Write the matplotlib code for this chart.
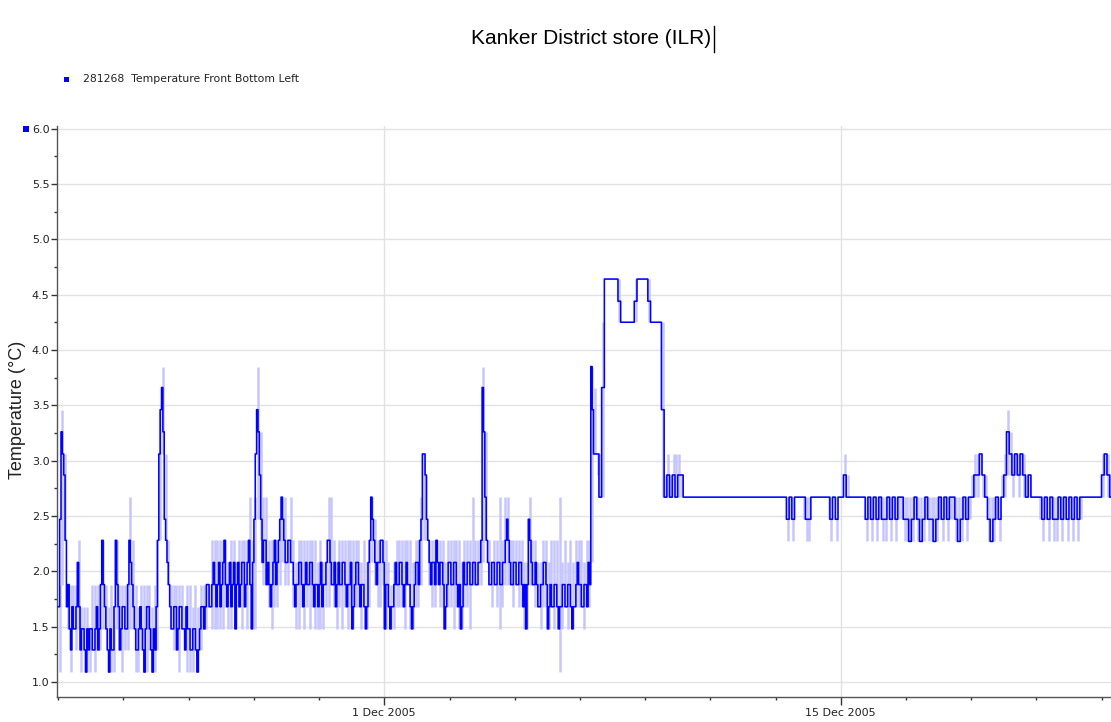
import matplotlib
matplotlib.use("Agg")
import matplotlib.pyplot as plt
import matplotlib.dates as mdates
from matplotlib.ticker import FixedLocator, MultipleLocator, FuncFormatter
from matplotlib.patches import Rectangle
from matplotlib.lines import Line2D
from datetime import datetime, timedelta

# ---------------- data (2-hour bins starting 21 Nov 2005 00:00) ----------------
title = "Kanker District store (ILR)"
series_name = "281268  Temperature Front Bottom Left"
y_label = "Temperature (°C)"
start_time = datetime(2005, 11, 21)
bin_hours = 2
x_major_dates = [datetime(2005, 12, 1), datetime(2005, 12, 15)]
x_major_labels = ["1 Dec 2005", "15 Dec 2005"]

# main (dark) trace: reading at the start of each 2-hour bin
temp_main = [
    1.68, 3.26, 2.87, 1.68, 1.48, 1.68, 1.48, 2.08, 1.29, 1.48, 1.09, 1.29,   # 21 Nov
    1.48, 1.29, 1.68, 1.48, 2.28, 1.68, 1.29, 1.48, 1.29, 2.28, 1.68, 1.48,   # 22 Nov
    1.68, 1.48, 2.28, 1.88, 1.48, 1.29, 1.68, 1.29, 1.48, 1.68, 1.29, 1.48,   # 23 Nov
    1.68, 3.06, 3.66, 2.47, 2.08, 1.68, 1.48, 1.68, 1.48, 1.68, 1.48, 1.68,   # 24 Nov
    1.48, 1.29, 1.48, 1.09, 1.48, 1.68, 1.68, 1.88, 1.68, 2.08, 1.68, 2.08,   # 25 Nov
    1.88, 2.28, 1.68, 2.08, 1.88, 1.48, 2.08, 1.88, 2.08, 1.88, 2.28, 1.48,   # 26 Nov
    2.47, 3.46, 2.87, 2.08, 2.28, 2.08, 1.68, 2.08, 1.88, 2.28, 2.67, 2.28,   # 27 Nov
    2.08, 2.28, 2.08, 1.68, 1.88, 2.08, 1.68, 2.08, 1.88, 2.08, 1.68, 1.88,   # 28 Nov
    1.88, 1.68, 1.88, 2.28, 2.08, 1.88, 1.68, 2.08, 1.88, 2.08, 1.68, 1.88,   # 29 Nov
    1.48, 1.88, 2.08, 1.68, 1.88, 1.48, 2.08, 2.67, 2.28, 1.88, 2.08, 2.28,   # 30 Nov
    1.48, 1.88, 1.48, 1.68, 2.08, 1.88, 2.08, 1.68, 2.08, 1.88, 1.48, 1.88,   # 1 Dec
    2.08, 2.28, 3.06, 2.87, 2.28, 1.88, 2.08, 2.28, 1.88, 2.08, 1.48, 1.88,   # 2 Dec
    2.08, 1.88, 2.08, 1.68, 1.48, 2.08, 1.88, 2.08, 1.88, 2.08, 1.88, 2.08,   # 3 Dec
    3.66, 2.67, 2.08, 1.88, 2.08, 1.88, 2.08, 1.88, 2.08, 2.47, 2.08, 1.88,   # 4 Dec
    2.08, 1.88, 2.08, 1.68, 1.48, 2.47, 2.08, 1.88, 1.88, 1.68, 1.88, 2.08,   # 5 Dec
    1.48, 1.88, 1.68, 1.88, 1.48, 1.68, 1.88, 1.68, 1.88, 1.48, 1.68, 2.08,   # 6 Dec
    1.88, 1.68, 1.88, 2.08, 3.85, 3.06, 3.06, 2.67, 3.66, 4.64, 4.64, 4.64,   # 7 Dec
    4.64, 4.64, 4.44, 4.25, 4.25, 4.25, 4.25, 4.25, 4.44, 4.64, 4.64, 4.64,   # 8 Dec
    4.64, 4.44, 4.25, 4.25, 4.25, 4.25, 3.46, 2.67, 2.87, 2.67, 2.87, 2.67,   # 9 Dec
    2.87, 2.87, 2.67, 2.67, 2.67, 2.67, 2.67, 2.67, 2.67, 2.67, 2.67, 2.67,   # 10 Dec
    2.67, 2.67, 2.67, 2.67, 2.67, 2.67, 2.67, 2.67, 2.67, 2.67, 2.67, 2.67,   # 11 Dec
    2.67, 2.67, 2.67, 2.67, 2.67, 2.67, 2.67, 2.67, 2.67, 2.67, 2.67, 2.67,   # 12 Dec
    2.67, 2.67, 2.67, 2.67, 2.47, 2.67, 2.47, 2.67, 2.67, 2.67, 2.67, 2.47,   # 13 Dec
    2.47, 2.67, 2.67, 2.67, 2.67, 2.67, 2.67, 2.67, 2.47, 2.67, 2.47, 2.67,   # 14 Dec
    2.67, 2.87, 2.67, 2.67, 2.67, 2.67, 2.67, 2.67, 2.67, 2.47, 2.67, 2.47,   # 15 Dec
    2.67, 2.47, 2.67, 2.47, 2.47, 2.67, 2.47, 2.67, 2.47, 2.67, 2.67, 2.47,   # 16 Dec
    2.47, 2.27, 2.47, 2.67, 2.47, 2.27, 2.47, 2.67, 2.47, 2.47, 2.27, 2.47,   # 17 Dec
    2.67, 2.47, 2.67, 2.47, 2.67, 2.67, 2.47, 2.27, 2.47, 2.67, 2.47, 2.67,   # 18 Dec
    2.67, 2.87, 2.87, 3.06, 2.87, 2.67, 2.47, 2.27, 2.47, 2.67, 2.47, 2.67,   # 19 Dec
    2.87, 3.26, 3.06, 2.87, 3.06, 2.87, 3.06, 2.87, 2.67, 2.87, 2.67, 2.67,   # 20 Dec
    2.67, 2.67, 2.47, 2.67, 2.47, 2.67, 2.47, 2.47, 2.67, 2.47, 2.67, 2.47,   # 21 Dec
    2.67, 2.47, 2.67, 2.47, 2.67, 2.67, 2.67, 2.67, 2.67, 2.67, 2.67, 2.67,   # 22 Dec
    2.87, 3.06, 2.87, 2.67,                                                   # 23 Dec
]

# main trace, reading one hour into each bin (noisy period 21 Nov - 7 Dec only;
# later bins keep their start reading)
temp_mid = [
    2.47, 3.06, 2.28, 1.88, 1.29, 1.48, 1.68, 1.68, 1.48, 1.29, 1.48, 1.48,   # 21 Nov
    1.29, 1.48, 1.29, 1.88, 1.88, 1.48, 1.09, 1.29, 1.68, 1.88, 1.29, 1.68,   # 22 Nov
    1.48, 1.88, 2.08, 1.68, 1.29, 1.48, 1.48, 1.09, 1.68, 1.48, 1.09, 1.29,   # 23 Nov
    2.28, 3.46, 3.26, 2.28, 1.88, 1.48, 1.68, 1.29, 1.68, 1.48, 1.29, 1.48,   # 24 Nov
    1.29, 1.48, 1.29, 1.29, 1.68, 1.48, 1.88, 1.68, 1.88, 1.88, 1.88, 1.68,   # 25 Nov
    2.08, 1.88, 1.88, 1.68, 2.08, 1.88, 1.68, 2.08, 1.68, 2.08, 1.88, 2.08,   # 26 Nov
    3.06, 3.26, 2.47, 2.28, 1.88, 1.88, 1.88, 2.28, 2.08, 2.47, 2.47, 2.08,   # 27 Nov
    2.28, 2.08, 1.88, 1.88, 2.08, 1.88, 1.88, 1.88, 2.08, 1.88, 1.88, 1.68,   # 28 Nov
    2.08, 1.88, 2.08, 2.28, 1.88, 2.08, 1.88, 1.88, 2.08, 1.88, 1.88, 2.08,   # 29 Nov
    1.68, 2.08, 1.88, 1.88, 1.68, 1.68, 2.28, 2.47, 2.08, 2.08, 2.28, 2.08,   # 30 Nov
    1.88, 1.68, 1.68, 1.88, 1.88, 2.08, 1.88, 1.88, 1.88, 1.68, 1.68, 2.08,   # 1 Dec
    1.88, 2.47, 3.06, 2.47, 2.08, 2.08, 1.88, 2.08, 2.08, 1.88, 1.68, 2.08,   # 2 Dec
    1.88, 2.08, 1.88, 1.88, 1.68, 1.88, 2.08, 1.88, 2.08, 1.88, 2.08, 2.28,   # 3 Dec
    3.26, 2.28, 1.88, 2.08, 1.88, 2.08, 1.88, 2.08, 2.28, 2.28, 1.88, 2.08,   # 4 Dec
    1.88, 2.08, 1.88, 1.88, 1.88, 2.28, 1.88, 2.08, 1.68, 1.88, 2.08, 1.88,   # 5 Dec
    1.68, 1.68, 1.88, 1.68, 1.68, 1.88, 1.68, 1.88, 1.68, 1.68, 1.88, 1.88,   # 6 Dec
    1.68, 1.88, 1.68, 1.88, 3.46,                                             # 7 Dec
]

# highest reading inside each bin (light trace)
temp_high = [
    1.88, 3.46, 3.06, 1.88, 1.88, 1.88, 1.88, 2.28, 1.68, 1.68, 1.68, 1.48,
    1.88, 1.88, 1.88, 1.88, 2.28, 1.88, 1.68, 1.88, 1.68, 2.28, 1.88, 1.88,
    1.88, 1.88, 2.67, 2.28, 1.88, 1.68, 1.88, 1.88, 1.88, 1.88, 1.68, 1.88,
    2.28, 3.46, 3.85, 3.06, 2.28, 1.88, 1.88, 1.88, 1.88, 1.88, 1.68, 1.88,
    1.88, 1.68, 1.88, 1.68, 1.88, 1.88, 1.88, 1.88, 2.28, 2.28, 2.28, 2.28,
    2.28, 2.28, 2.08, 2.28, 2.28, 2.08, 2.28, 2.28, 2.28, 2.28, 2.67, 2.28,
    2.67, 3.85, 3.26, 2.67, 2.67, 2.28, 2.28, 2.28, 2.28, 2.47, 2.67, 2.67,
    2.28, 2.67, 2.28, 2.08, 2.28, 2.28, 2.28, 2.28, 2.28, 2.28, 2.28, 2.08,
    2.28, 2.08, 2.08, 2.67, 2.67, 2.28, 2.08, 2.28, 2.28, 2.28, 2.28, 2.28,
    2.28, 2.28, 2.28, 2.08, 2.28, 2.08, 2.28, 2.67, 2.47, 2.28, 2.28, 2.28,
    2.28, 2.08, 1.88, 2.08, 2.28, 2.28, 2.28, 2.28, 2.28, 2.28, 2.08, 2.28,
    2.28, 2.67, 3.06, 2.87, 2.28, 2.28, 2.28, 2.28, 2.28, 2.28, 2.08, 2.28,
    2.28, 2.28, 2.28, 2.28, 2.08, 2.28, 2.28, 2.28, 2.67, 2.28, 2.28, 2.28,
    3.85, 3.26, 2.28, 2.08, 2.28, 2.28, 2.67, 2.28, 2.67, 2.67, 2.28, 2.28,
    2.28, 2.28, 2.28, 2.08, 2.08, 2.67, 2.28, 2.28, 2.08, 2.08, 2.28, 2.28,
    2.08, 2.28, 2.28, 2.28, 2.67, 2.08, 2.28, 2.08, 2.28, 2.08, 2.28, 2.28,
    2.28, 2.08, 2.28, 2.28, 3.85, 3.66, 3.06, 3.06, 4.25, 4.64, 4.64, 4.64,
    4.64, 4.64, 4.64, 4.25, 4.25, 4.25, 4.25, 4.25, 4.64, 4.64, 4.64, 4.64,
    4.64, 4.64, 4.25, 4.25, 4.25, 4.25, 4.25, 2.87, 3.06, 2.87, 3.06, 3.06,
    3.06, 2.87, 2.67, 2.67, 2.67, 2.67, 2.67, 2.67, 2.67, 2.67, 2.67, 2.67,
    2.67, 2.67, 2.67, 2.67, 2.67, 2.67, 2.67, 2.67, 2.67, 2.67, 2.67, 2.67,
    2.67, 2.67, 2.67, 2.67, 2.67, 2.67, 2.67, 2.67, 2.67, 2.67, 2.67, 2.67,
    2.67, 2.67, 2.67, 2.67, 2.67, 2.67, 2.67, 2.67, 2.67, 2.67, 2.67, 2.67,
    2.67, 2.67, 2.67, 2.67, 2.67, 2.67, 2.67, 2.67, 2.67, 2.67, 2.67, 2.67,
    2.67, 3.06, 2.87, 2.67, 2.67, 2.67, 2.67, 2.67, 2.67, 2.67, 2.67, 2.67,
    2.67, 2.67, 2.67, 2.67, 2.67, 2.67, 2.67, 2.67, 2.67, 2.67, 2.67, 2.67,
    2.67, 2.67, 2.67, 2.67, 2.67, 2.67, 2.67, 2.67, 2.67, 2.67, 2.67, 2.67,
    2.67, 2.67, 2.67, 2.67, 2.67, 2.67, 2.67, 2.67, 2.67, 2.67, 2.67, 2.67,
    2.87, 3.06, 3.06, 3.06, 2.87, 2.87, 2.67, 2.67, 2.67, 2.67, 2.67, 2.87,
    3.06, 3.46, 3.26, 3.06, 3.06, 3.06, 3.06, 3.06, 2.87, 2.87, 2.67, 2.67,
    2.67, 2.67, 2.67, 2.67, 2.67, 2.67, 2.67, 2.67, 2.67, 2.67, 2.67, 2.67,
    2.67, 2.67, 2.67, 2.67, 2.67, 2.67, 2.67, 2.67, 2.67, 2.67, 2.67, 2.67,
    3.06, 3.06, 3.06, 2.87,
]

# lowest reading inside each bin (light trace)
temp_low = [
    1.09, 1.88, 2.28, 1.48, 1.09, 1.48, 1.29, 1.48, 1.09, 1.29, 1.09, 1.09,
    1.29, 1.09, 1.29, 1.29, 1.48, 1.48, 1.09, 1.09, 1.09, 1.48, 1.29, 1.09,
    1.29, 1.29, 1.48, 1.48, 1.09, 1.09, 1.29, 1.09, 1.09, 1.29, 1.09, 1.09,
    1.29, 2.28, 3.06, 2.28, 1.88, 1.48, 1.29, 1.48, 1.09, 1.48, 1.29, 1.09,
    1.09, 1.09, 1.29, 1.09, 1.29, 1.48, 1.48, 1.68, 1.48, 1.48, 1.48, 1.48,
    1.48, 1.68, 1.48, 1.48, 1.68, 1.48, 1.68, 1.48, 1.68, 1.48, 1.88, 1.48,
    1.48, 2.47, 2.28, 1.88, 1.88, 1.68, 1.48, 1.68, 1.68, 1.88, 2.08, 1.88,
    1.88, 2.08, 1.68, 1.48, 1.48, 1.68, 1.48, 1.68, 1.48, 1.68, 1.48, 1.48,
    1.48, 1.48, 1.68, 1.68, 1.88, 1.68, 1.48, 1.68, 1.48, 1.68, 1.48, 1.68,
    1.48, 1.68, 1.68, 1.48, 1.68, 1.48, 1.68, 2.08, 1.88, 1.68, 1.68, 1.88,
    1.48, 1.68, 1.48, 1.48, 1.68, 1.68, 1.68, 1.48, 1.88, 1.48, 1.48, 1.68,
    1.68, 1.88, 2.28, 2.28, 1.88, 1.68, 1.68, 1.88, 1.68, 1.68, 1.48, 1.68,
    1.68, 1.48, 1.68, 1.48, 1.48, 1.68, 1.68, 1.48, 1.88, 1.88, 1.88, 1.88,
    2.08, 2.28, 1.88, 1.68, 1.88, 1.68, 1.48, 1.68, 1.88, 1.88, 1.88, 1.68,
    1.88, 1.68, 1.68, 1.48, 1.48, 1.88, 1.88, 1.68, 1.68, 1.48, 1.68, 1.68,
    1.48, 1.68, 1.48, 1.68, 1.09, 1.48, 1.68, 1.48, 1.68, 1.48, 1.68, 1.68,
    1.68, 1.48, 1.68, 1.68, 2.08, 3.06, 2.87, 2.67, 2.67, 4.64, 4.64, 4.64,
    4.64, 4.64, 4.25, 4.25, 4.25, 4.25, 4.25, 4.25, 4.25, 4.64, 4.64, 4.64,
    4.64, 4.25, 4.25, 4.25, 4.25, 4.25, 2.67, 2.67, 2.67, 2.67, 2.67, 2.67,
    2.67, 2.67, 2.67, 2.67, 2.67, 2.67, 2.67, 2.67, 2.67, 2.67, 2.67, 2.67,
    2.67, 2.67, 2.67, 2.67, 2.67, 2.67, 2.67, 2.67, 2.67, 2.67, 2.67, 2.67,
    2.67, 2.67, 2.67, 2.67, 2.67, 2.67, 2.67, 2.67, 2.67, 2.67, 2.67, 2.67,
    2.67, 2.67, 2.67, 2.67, 2.27, 2.47, 2.27, 2.67, 2.67, 2.67, 2.47, 2.27,
    2.27, 2.67, 2.67, 2.67, 2.67, 2.67, 2.67, 2.47, 2.27, 2.67, 2.27, 2.67,
    2.67, 2.67, 2.67, 2.67, 2.67, 2.67, 2.67, 2.67, 2.67, 2.27, 2.47, 2.27,
    2.47, 2.27, 2.47, 2.27, 2.27, 2.47, 2.27, 2.47, 2.27, 2.47, 2.47, 2.27,
    2.27, 2.27, 2.27, 2.47, 2.27, 2.27, 2.27, 2.47, 2.27, 2.27, 2.27, 2.27,
    2.47, 2.27, 2.47, 2.27, 2.47, 2.47, 2.27, 2.27, 2.27, 2.47, 2.27, 2.47,
    2.67, 2.67, 2.67, 2.87, 2.67, 2.67, 2.27, 2.27, 2.27, 2.47, 2.27, 2.67,
    2.67, 2.87, 2.87, 2.67, 2.87, 2.67, 2.87, 2.67, 2.67, 2.67, 2.67, 2.67,
    2.67, 2.47, 2.27, 2.47, 2.27, 2.47, 2.27, 2.27, 2.47, 2.27, 2.47, 2.27,
    2.47, 2.27, 2.47, 2.27, 2.47, 2.67, 2.67, 2.67, 2.67, 2.67, 2.67, 2.67,
    2.67, 2.87, 2.67, 2.67,
]

# ---------------- figure ----------------
W, H = 1111, 722
fig = plt.figure(figsize=(W / 100, H / 100), dpi=100)
fig.patch.set_facecolor("white")

ax_left, ax_right = 56.5 / W, 1.0
ax_bottom, ax_top = (H - 697) / H, (H - 126.3) / H
ax = fig.add_axes([ax_left, ax_bottom, ax_right - ax_left, ax_top - ax_bottom])

t0 = mdates.date2num(start_time)
n = len(temp_main)
half = bin_hours / 2

# hourly main trace built from the start-of-bin and mid-bin readings
trace_t, trace_v = [], []
for k in range(n):
    trace_t.append(mdates.date2num(start_time + timedelta(hours=bin_hours * k)))
    trace_v.append(temp_main[k])
    trace_t.append(mdates.date2num(start_time + timedelta(hours=bin_hours * k + half)))
    trace_v.append(temp_mid[k] if k < len(temp_mid) else temp_main[k])
trace_t.append(mdates.date2num(start_time + timedelta(hours=bin_hours * n)))
trace_v.append(trace_v[-1])

centers = [mdates.date2num(start_time + timedelta(hours=bin_hours * k + half)) for k in range(n)]

# light spread of readings within each bin
vx, vlo, vhi = [], [], []
for c, lo, hi in zip(centers, temp_low, temp_high):
    if hi > lo:
        vx.append(c); vlo.append(lo); vhi.append(hi)
ax.vlines(vx, vlo, vhi, colors="#c6c6ff", linewidth=1.8, zorder=2)

# main trace
ax.step(trace_t, trace_v, where="post", color="#0000ff", linewidth=1.15, zorder=3)

# axes limits
ax.set_xlim(t0 - 0.055, t0 + 32.29)
ax.set_ylim(0.8645, 6.02)

# grid
ax.grid(True, which="major", color="#e2e2e2", linewidth=1.0, zorder=0)
ax.set_axisbelow(True)

# spines
for s in ("top", "right"):
    ax.spines[s].set_visible(False)
for s in ("left", "bottom"):
    ax.spines[s].set_color("#555555")
    ax.spines[s].set_linewidth(1.0)

# x ticks
major_nums = [mdates.date2num(d) for d in x_major_dates]
ax.xaxis.set_major_locator(FixedLocator(major_nums))
ax.set_xticklabels(x_major_labels)
minor_nums = [t0 + 2 * i for i in range(17)]
ax.xaxis.set_minor_locator(FixedLocator(minor_nums))
ax.tick_params(axis="x", which="major", length=5.5, width=1, color="#333333",
               labelsize=8, labelcolor="#222222", pad=2.5)
ax.tick_params(axis="x", which="minor", length=2.2, width=1, color="#333333")

# y ticks
ax.yaxis.set_major_locator(MultipleLocator(0.5))
ax.yaxis.set_minor_locator(MultipleLocator(0.25))
ax.yaxis.set_major_formatter(FuncFormatter(lambda v, p: f"{v:.1f}"))
ax.tick_params(axis="y", which="major", length=4.5, width=1, color="#333333",
               labelsize=8, labelcolor="#222222", pad=0.5)
ax.tick_params(axis="y", which="minor", length=2.2, width=1, color="#333333")

# y label
fig.text(18 / W, 1 - 410 / H, y_label, rotation=90, ha="center", va="center",
         fontsize=13, color="#222222", family="Liberation Sans")

# title with caret
fig.text(591 / W, 1 - 38 / H, title, ha="center", va="center",
         fontsize=15, color="black", family="Liberation Sans")
fig.add_artist(Line2D([714 / W, 714 / W], [1 - 26 / H, 1 - 52 / H],
                      color="black", linewidth=1.0, transform=fig.transFigure))

# legend
fig.add_artist(Rectangle((64 / W, 1 - 82 / H), 5 / W, 5 / H, facecolor="#0000ff",
                         edgecolor="none", transform=fig.transFigure))
fig.text(83 / W, 1 - 79 / H, series_name, ha="left", va="center",
         fontsize=7.85, color="#222222", family="DejaVu Sans")

# small series marker next to the top of the value axis
fig.add_artist(Rectangle((23 / W, 1 - 132 / H), 6 / W, 6 / H, facecolor="#0000ff",
                         edgecolor="none", transform=fig.transFigure))

fig.savefig("out.png", dpi=100, facecolor="white")
